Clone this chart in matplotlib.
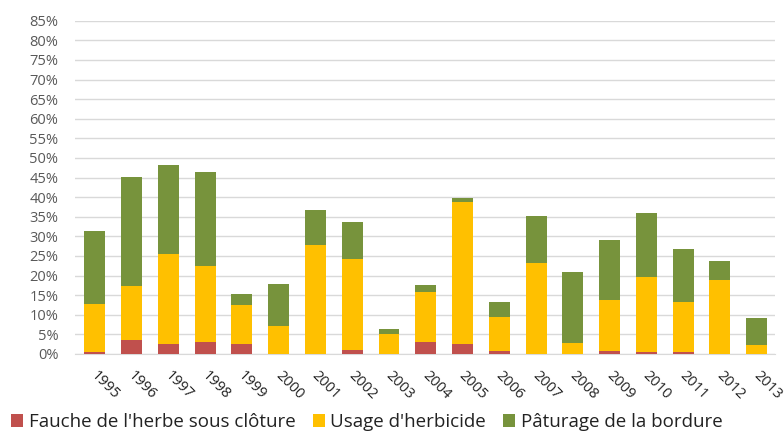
import matplotlib
matplotlib.use("Agg")
import matplotlib.pyplot as plt
import matplotlib.transforms as mtransforms
import numpy as np
from matplotlib.ticker import PercentFormatter

years = [str(y) for y in range(1995, 2014)]
fauche = [0.5, 3.6, 2.6, 3.0, 2.6, 0.0, 0.0, 1.1, 0.0, 3.1, 2.6, 0.85, 0.0, 0.0, 0.85, 0.4, 0.4, 0.0, 0.0]
herbicide_top = [12.8, 17.3, 25.6, 22.4, 12.5, 7.1, 27.9, 24.3, 5.0, 15.9, 38.7, 9.5, 23.2, 2.8, 13.8, 19.6, 13.2, 18.8, 2.4]
paturage_top = [31.4, 45.2, 48.1, 46.3, 15.2, 17.9, 36.8, 33.7, 6.3, 17.7, 39.7, 13.2, 35.1, 21.0, 29.2, 36.0, 26.9, 23.7, 9.1]
labels = ["Fauche de l'herbe sous clôture", "Usage d'herbicide", "Pâturage de la bordure"]
colors = ["#C0504D", "#FFC000", "#77933C"]

fauche = np.array(fauche)
herb = np.array(herbicide_top) - fauche
pat = np.array(paturage_top) - np.array(herbicide_top)

plt.rcParams['font.family'] = ['Open Sans', 'DejaVu Sans']
fig = plt.figure(figsize=(7.84, 4.37), dpi=100)
ax = fig.add_axes([0.0957, 0.19, 0.8928, 0.7624])
x = np.arange(len(years))
w = 0.57
ax.bar(x, fauche, w, color=colors[0], label=labels[0], zorder=3)
ax.bar(x, herb, w, bottom=fauche, color=colors[1], label=labels[1], zorder=3)
ax.bar(x, pat, w, bottom=fauche + herb, color=colors[2], label=labels[2], zorder=3)

ax.set_ylim(0, 85)
ax.set_xlim(-0.54, 18.5)
ax.set_yticks(np.arange(0, 86, 5))
ax.yaxis.set_major_formatter(PercentFormatter(decimals=0))
ax.grid(axis='y', color='#D9D9D9', linewidth=1, zorder=0)
for s in ['top', 'right', 'left']:
    ax.spines[s].set_visible(False)
ax.spines['bottom'].set_color('#D9D9D9')
ax.tick_params(axis='both', length=0)
ax.tick_params(axis='y', pad=12, labelsize=10.5, labelcolor='#595959')
ax.set_xticks(x)
ax.set_xticklabels(years, rotation=-45, ha='left', rotation_mode='anchor')
ax.tick_params(axis='x', pad=8, labelsize=10.5, labelcolor='#222222')
offset = mtransforms.ScaledTranslation(4 / 100, -3 / 100, fig.dpi_scale_trans)
for lbl in ax.get_xticklabels():
    lbl.set_transform(lbl.get_transform() + offset)

handles, labs = ax.get_legend_handles_labels()
fig.legend(handles, labs, loc='lower left', bbox_to_anchor=(0.0, -0.012), ncol=3,
           frameon=False, fontsize=13.5, handlelength=0.65, handleheight=0.65,
           handletextpad=0.3, columnspacing=0.9, borderaxespad=0.2,
           labelcolor='#222222')
fig.savefig("out.png", dpi=100)
